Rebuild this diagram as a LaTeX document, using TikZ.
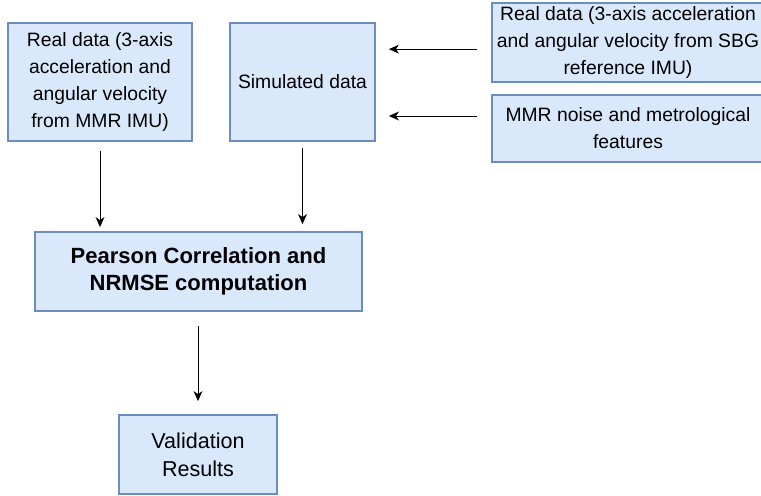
\documentclass[tikz,border=0pt]{standalone}
\usepackage{fontspec}
\setmainfont{Liberation Sans}
\usetikzlibrary{arrows.meta}
\definecolor{boxfill}{HTML}{DAE8FC}
\definecolor{boxline}{HTML}{6C8EBF}
\begin{document}
\begin{tikzpicture}[x=0.03cm, y=-0.03cm]
\tikzset{ >={Stealth[length=8.5pt,width=7.5pt,inset=2.5pt]},
  box/.style={draw=boxline, fill=boxfill, line width=1.5pt, align=center, inner sep=0pt,
              font=\fontsize{16.5}{23}\selectfont},
  arr/.style={->, line width=0.85pt, black},
}

\useasboundingbox (0,0) rectangle (761,495);

\node [box, minimum width=5.52cm, minimum height=3.54cm] (A) at (100,82)
  {Real data (3-axis\\acceleration and\\angular velocity\\from MMR IMU)};
\node [box, minimum width=4.35cm, minimum height=3.54cm] (S) at (302.5,82) {Simulated data};
\node [box, minimum width=8.16cm, minimum height=2.37cm] (R) at (628,42.5)
  {Real data (3-axis acceleration\\and angular velocity from SBG\\reference IMU)};
\node [box, minimum width=8.16cm, minimum height=2.01cm] (M) at (628,128.5)
  {MMR noise and metrological\\features};
\node [box, minimum width=9.81cm, minimum height=2.37cm, font=\fontsize{18.8}{23.5}\selectfont\bfseries] (P) at (198.5,271.5)
  {Pearson Correlation and\\NRMSE computation};
\node [box, minimum width=4.74cm, minimum height=2.37cm, font=\fontsize{18.4}{24}\selectfont] (V) at (198,454.5)
  {Validation\\Results};

% inputs to simulation
\draw [arr, shorten <=0.42cm, shorten >=0.39cm] ([yshift=-0.2cm]R.west)  -- ([yshift=-0.2cm]R.west -| S.east);
\draw [arr, shorten <=0.42cm, shorten >=0.39cm] ([yshift=0.375cm]M.west) -- ([yshift=0.375cm]M.west -| S.east);

\draw [arr, shorten <=0.27cm, shorten >=0.12cm] (A.south) -- (A.south |- P.north);
\draw [arr, shorten <=0.18cm, shorten >=0.21cm] (S.south) -- (S.south |- P.north);
\draw [arr, shorten <=0.42cm, shorten >=0.39cm] (V.north |- P.south) -- (V.north);
\end{tikzpicture}
\end{document}
